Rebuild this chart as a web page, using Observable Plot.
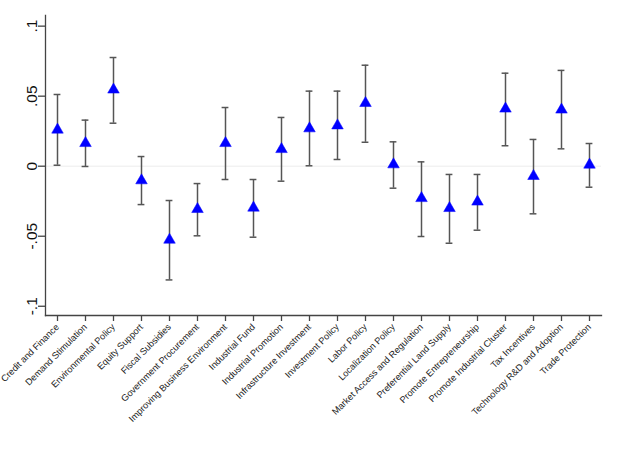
<!DOCTYPE html>
<html>
<head>
<meta charset="utf-8">
<script src="https://cdn.jsdelivr.net/npm/d3@7"></script>
<script src="https://cdn.jsdelivr.net/npm/@observablehq/plot@0.6"></script>
<style>
  html, body { margin: 0; padding: 0; background: #fff; }
  #chart svg { display: block; }
</style>
</head>
<body>
<div id="chart"></div>
<script>
const categories = [
  "Credit and Finance", "Demand Stimulation", "Environmental Policy", "Equity Support",
  "Fiscal Subsidies", "Government Procurement", "Improving Business Environment",
  "Industrial Fund", "Industrial Promotion", "Infrastructure Investment",
  "Investment Policy", "Labor Policy", "Localization Policy",
  "Market Access and Regulation", "Preferential Land Supply", "Promote Entrepreneurship",
  "Promote Industrial Cluster", "Tax Incentives", "Technology R&D and Adoption",
  "Trade Protection"
];
const estimates = [0.026, 0.0164, 0.0546, -0.0102, -0.0526, -0.0307, 0.0164, -0.0297, 0.0121, 0.0269,
                   0.029, 0.045, 0.0012, -0.0229, -0.030, -0.0254, 0.041, -0.0071, 0.0403, 0.001];
const lower = [0.0007, -0.0002, 0.0307, -0.0274, -0.0812, -0.0497, -0.0095, -0.0507, -0.0107, 0.0003,
               0.0048, 0.0171, -0.0157, -0.0502, -0.055, -0.0457, 0.0146, -0.034, 0.0124, -0.015];
const upper = [0.0512, 0.0329, 0.0776, 0.0069, -0.0245, -0.0124, 0.0419, -0.0095, 0.0348, 0.0536,
               0.0536, 0.0721, 0.0174, 0.0031, -0.0059, -0.0059, 0.0664, 0.0191, 0.0684, 0.0162];
const yTicks = [-0.1, -0.05, 0, 0.05, 0.1];
const yTickLabels = ["-.1", "-.05", "0", ".05", ".1"];

const data = categories.map((c, i) => ({name: c, est: estimates[i], lo: lower[i], hi: upper[i]}));
const yLabelData = yTicks.map((v, i) => ({v, label: yTickLabels[i]}));

const axisColor = "#444";
const barColor = "#555";

const chart = Plot.plot({
  width: 617,
  height: 449,
  marginTop: 15,
  marginBottom: 134,
  marginLeft: 45,
  marginRight: 16,
  style: {fontFamily: "'Liberation Sans', Arial, Helvetica, sans-serif", background: "#fff"},
  x: {type: "band", domain: categories, range: [40.9, 605.8], padding: 0, label: null},
  y: {domain: [-0.1066, 0.1076], label: null},
  marks: [
    Plot.ruleY([0], {stroke: "#ececec", strokeWidth: 1}),
    Plot.frame({anchor: "left", stroke: axisColor, strokeWidth: 1.3}),
    Plot.frame({anchor: "bottom", stroke: axisColor, strokeWidth: 1.3}),
    Plot.axisY({ticks: yTicks, tickSize: 7, tickFormat: () => "", stroke: axisColor, strokeWidth: 1.3, label: null}),
    Plot.text(yLabelData, {
      y: "v", text: "label", frameAnchor: "left", dx: -9,
      rotate: -90, textAnchor: "middle", lineAnchor: "bottom",
      fontSize: 15.5, fill: "#111"
    }),
    Plot.axisX({
      tickSize: 6, tickRotate: -45, tickPadding: 4, fontSize: 9.2,
      stroke: axisColor, strokeWidth: 1.3, fill: "#222", label: null
    }),
    Plot.ruleX(data, {x: "name", y1: "lo", y2: "hi", stroke: barColor, strokeWidth: 1.5}),
    Plot.tickY(data, {x: "name", y: "lo", stroke: barColor, strokeWidth: 1.5, insetLeft: 10.6, insetRight: 10.6}),
    Plot.tickY(data, {x: "name", y: "hi", stroke: barColor, strokeWidth: 1.5, insetLeft: 10.6, insetRight: 10.6}),
    Plot.dot(data, {x: "name", y: "est", symbol: "triangle", r: 4.3, fill: "#0000ff", stroke: "#0000ff", strokeWidth: 0.5})
  ]
});
document.getElementById("chart").appendChild(chart);
</script>
</body>
</html>
